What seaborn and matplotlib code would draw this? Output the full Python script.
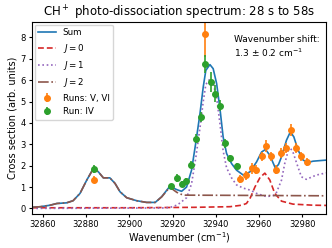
import numpy as np
import pandas as pd
import matplotlib
matplotlib.use("Agg")
import matplotlib.pyplot as plt
import seaborn as sns

# ---- data ----
sum_x = [32855, 32859, 32863.4, 32866.5, 32871, 32874, 32877.2, 32880.3, 32883.4, 32885.7,
         32888, 32891, 32893.4, 32895.7, 32898.8, 32903.4, 32908, 32912, 32915, 32918.8,
         32921.9, 32924.2, 32926.5, 32928.8, 32930.8, 32932.7, 32934.2, 32935.4, 32937.3,
         32938.8, 32940.4, 32941.9, 32943.4, 32945, 32947.3, 32949.6, 32952.7, 32955.8,
         32958.9, 32961.2, 32963, 32965, 32967.5, 32969, 32970.4, 32972.7, 32974.5, 32976.1,
         32978.1, 32980.4, 32982.7, 32985, 32991]
sum_y = [0.05, 0.08, 0.15, 0.23, 0.26, 0.36, 0.7, 1.32, 1.87, 1.71,
         1.43, 1.43, 1.17, 0.78, 0.5, 0.36, 0.28, 0.28, 0.55, 1.04,
         0.88, 0.8, 1.0, 1.79, 3.1, 4.44, 5.68, 6.46, 6.73,
         6.54, 5.84, 4.7, 3.35, 2.57, 2.1, 1.79, 1.56, 1.71,
         2.18, 2.64, 2.76, 2.49, 1.9, 2.05, 2.41, 3.19, 3.58, 3.35,
         2.72, 2.26, 2.15, 2.21, 2.26]

j0_x = [32855, 32900, 32930, 32946.6, 32952, 32954.2, 32956, 32958.1, 32960.5, 32962.7,
        32965, 32967.3, 32970.4, 32975.7, 32985, 32991]
j0_y = [0.03, 0.03, 0.05, 0.08, 0.15, 0.23, 0.5, 1.0, 1.45, 1.65,
        1.33, 0.7, 0.34, 0.2, 0.15, 0.14]

j1_x = [32855, 32916, 32919, 32921.9, 32923.4, 32926.5, 32928.8, 32930.8, 32932.7, 32934.2,
        32935.4, 32937.3, 32938.8, 32940.4, 32941.9, 32943.4, 32945, 32947.3, 32949.6,
        32952.7, 32955.8, 32958.9, 32963.5, 32966.5, 32968.1, 32970.4, 32971.9, 32973.5,
        32974.5, 32975.5, 32977.3, 32979.6, 32981.9, 32986.5, 32991]
j1_y = [0.0, 0.02, 0.05, 0.15, 0.25, 0.5, 1.15, 2.4, 3.77, 5.0,
        5.8, 6.06, 5.87, 5.17, 4.0, 2.7, 1.9, 1.43, 1.1,
        0.95, 0.86, 0.7, 0.55, 0.6, 0.75, 1.32, 2.1, 2.7,
        2.8, 2.7, 2.15, 1.48, 1.36, 1.56, 1.66]

j2_x = [32855, 32859, 32863.4, 32866.5, 32871, 32874, 32877.2, 32880.3, 32883.4, 32885.7,
        32888, 32891, 32893.4, 32895.7, 32898.8, 32903.4, 32908, 32912, 32915, 32918.8,
        32920.5, 32922, 32924, 32926, 32950, 32991]
j2_y = [0.05, 0.08, 0.15, 0.23, 0.26, 0.36, 0.7, 1.32, 1.87, 1.71,
        1.43, 1.43, 1.17, 0.78, 0.5, 0.36, 0.28, 0.28, 0.54, 1.0,
        0.86, 0.75, 0.66, 0.62, 0.61, 0.59]

run56_x = [32883.5, 32935, 32951.3, 32954, 32956.8, 32958.5, 32961.2, 32963.3, 32965.5,
           32967.9, 32970.1, 32972.5, 32975, 32977.1, 32979.6, 32982.1]
run56_y = [1.35, 8.18, 1.38, 1.54, 1.88, 1.82, 2.44, 2.93, 2.44,
           1.82, 2.6, 2.83, 3.66, 2.83, 2.44, 2.18]
run56_err = [0.18, 1.1, 0.2, 0.2, 0.25, 0.22, 0.22, 0.28, 0.22,
             0.2, 0.25, 0.25, 0.28, 0.22, 0.2, 0.18]

run4_x = [32883.5, 32919.5, 32922, 32924.3, 32926.3, 32928.7, 32930.9, 32933.1, 32935,
          32937.7, 32939.6, 32942.1, 32944.5, 32946.6, 32949.6]
run4_y = [1.84, 1.04, 1.43, 1.13, 1.29, 2.05, 3.27, 4.28, 6.78,
          5.92, 5.37, 4.81, 3.04, 2.34, 1.98]
run4_err = [0.2, 0.12, 0.18, 0.15, 0.15, 0.15, 0.2, 0.25, 0.42,
            0.47, 0.4, 0.25, 0.2, 0.18, 0.15]

labels = ["Sum", "$J=0$", "$J=1$", "$J=2$", "Runs: V, VI", "Run: IV"]
title = "CH$^+$ photo-dissociation spectrum: 28 s to 58s"
xlabel = "Wavenumber (cm$^{-1}$)"
ylabel = "Cross section (arb. units)"
annot = "Wavenumber shift:\n1.3 $\\pm$ 0.2 cm$^{-1}$"
xticks = [32860, 32880, 32900, 32920, 32940, 32960, 32980]

# ---- plot ----
plt.rcParams["font.family"] = ["DejaVu Sans"]
fig = plt.figure(figsize=(3.32, 2.48), dpi=100)
ax = fig.add_axes([0.0964, 0.139, 0.982 - 0.0964, 0.911 - 0.139])

lw = 1.2
sns.lineplot(x=sum_x, y=sum_y, ax=ax, color="tab:blue", lw=lw, label=labels[0])
sns.lineplot(x=j0_x, y=j0_y, ax=ax, color="tab:red", lw=lw, ls=(0, (3.5, 1.8)), label=labels[1])
sns.lineplot(x=j1_x, y=j1_y, ax=ax, color="tab:purple", lw=lw, ls=(0, (1, 1.6)), label=labels[2])
sns.lineplot(x=j2_x, y=j2_y, ax=ax, color="tab:brown", lw=lw, ls="-.", label=labels[3])

ax.errorbar(run56_x, run56_y, yerr=run56_err, fmt="o", color="tab:orange",
            markersize=4, elinewidth=1.2, label=labels[4])
ax.errorbar(run4_x, run4_y, yerr=run4_err, fmt="o", color="tab:green",
            markersize=4, elinewidth=1.2, label=labels[5])

ax.set_xlim(32855, 32991)
ax.set_ylim(-0.24, 8.72)
ax.set_xticks(xticks)
ax.tick_params(labelsize=6, length=2.5, pad=2)
ax.set_xlabel(xlabel, fontsize=7, labelpad=1)
ax.set_ylabel(ylabel, fontsize=7, labelpad=2)
ax.set_title(title, fontsize=8.5, pad=3)
ax.text(0.687, 0.93, annot, transform=ax.transAxes, fontsize=6.5, va="top", ha="left")
ax.legend(loc="upper left", fontsize=6.3, framealpha=0.8, borderaxespad=0.3)

fig.savefig("out.png", dpi=100)
